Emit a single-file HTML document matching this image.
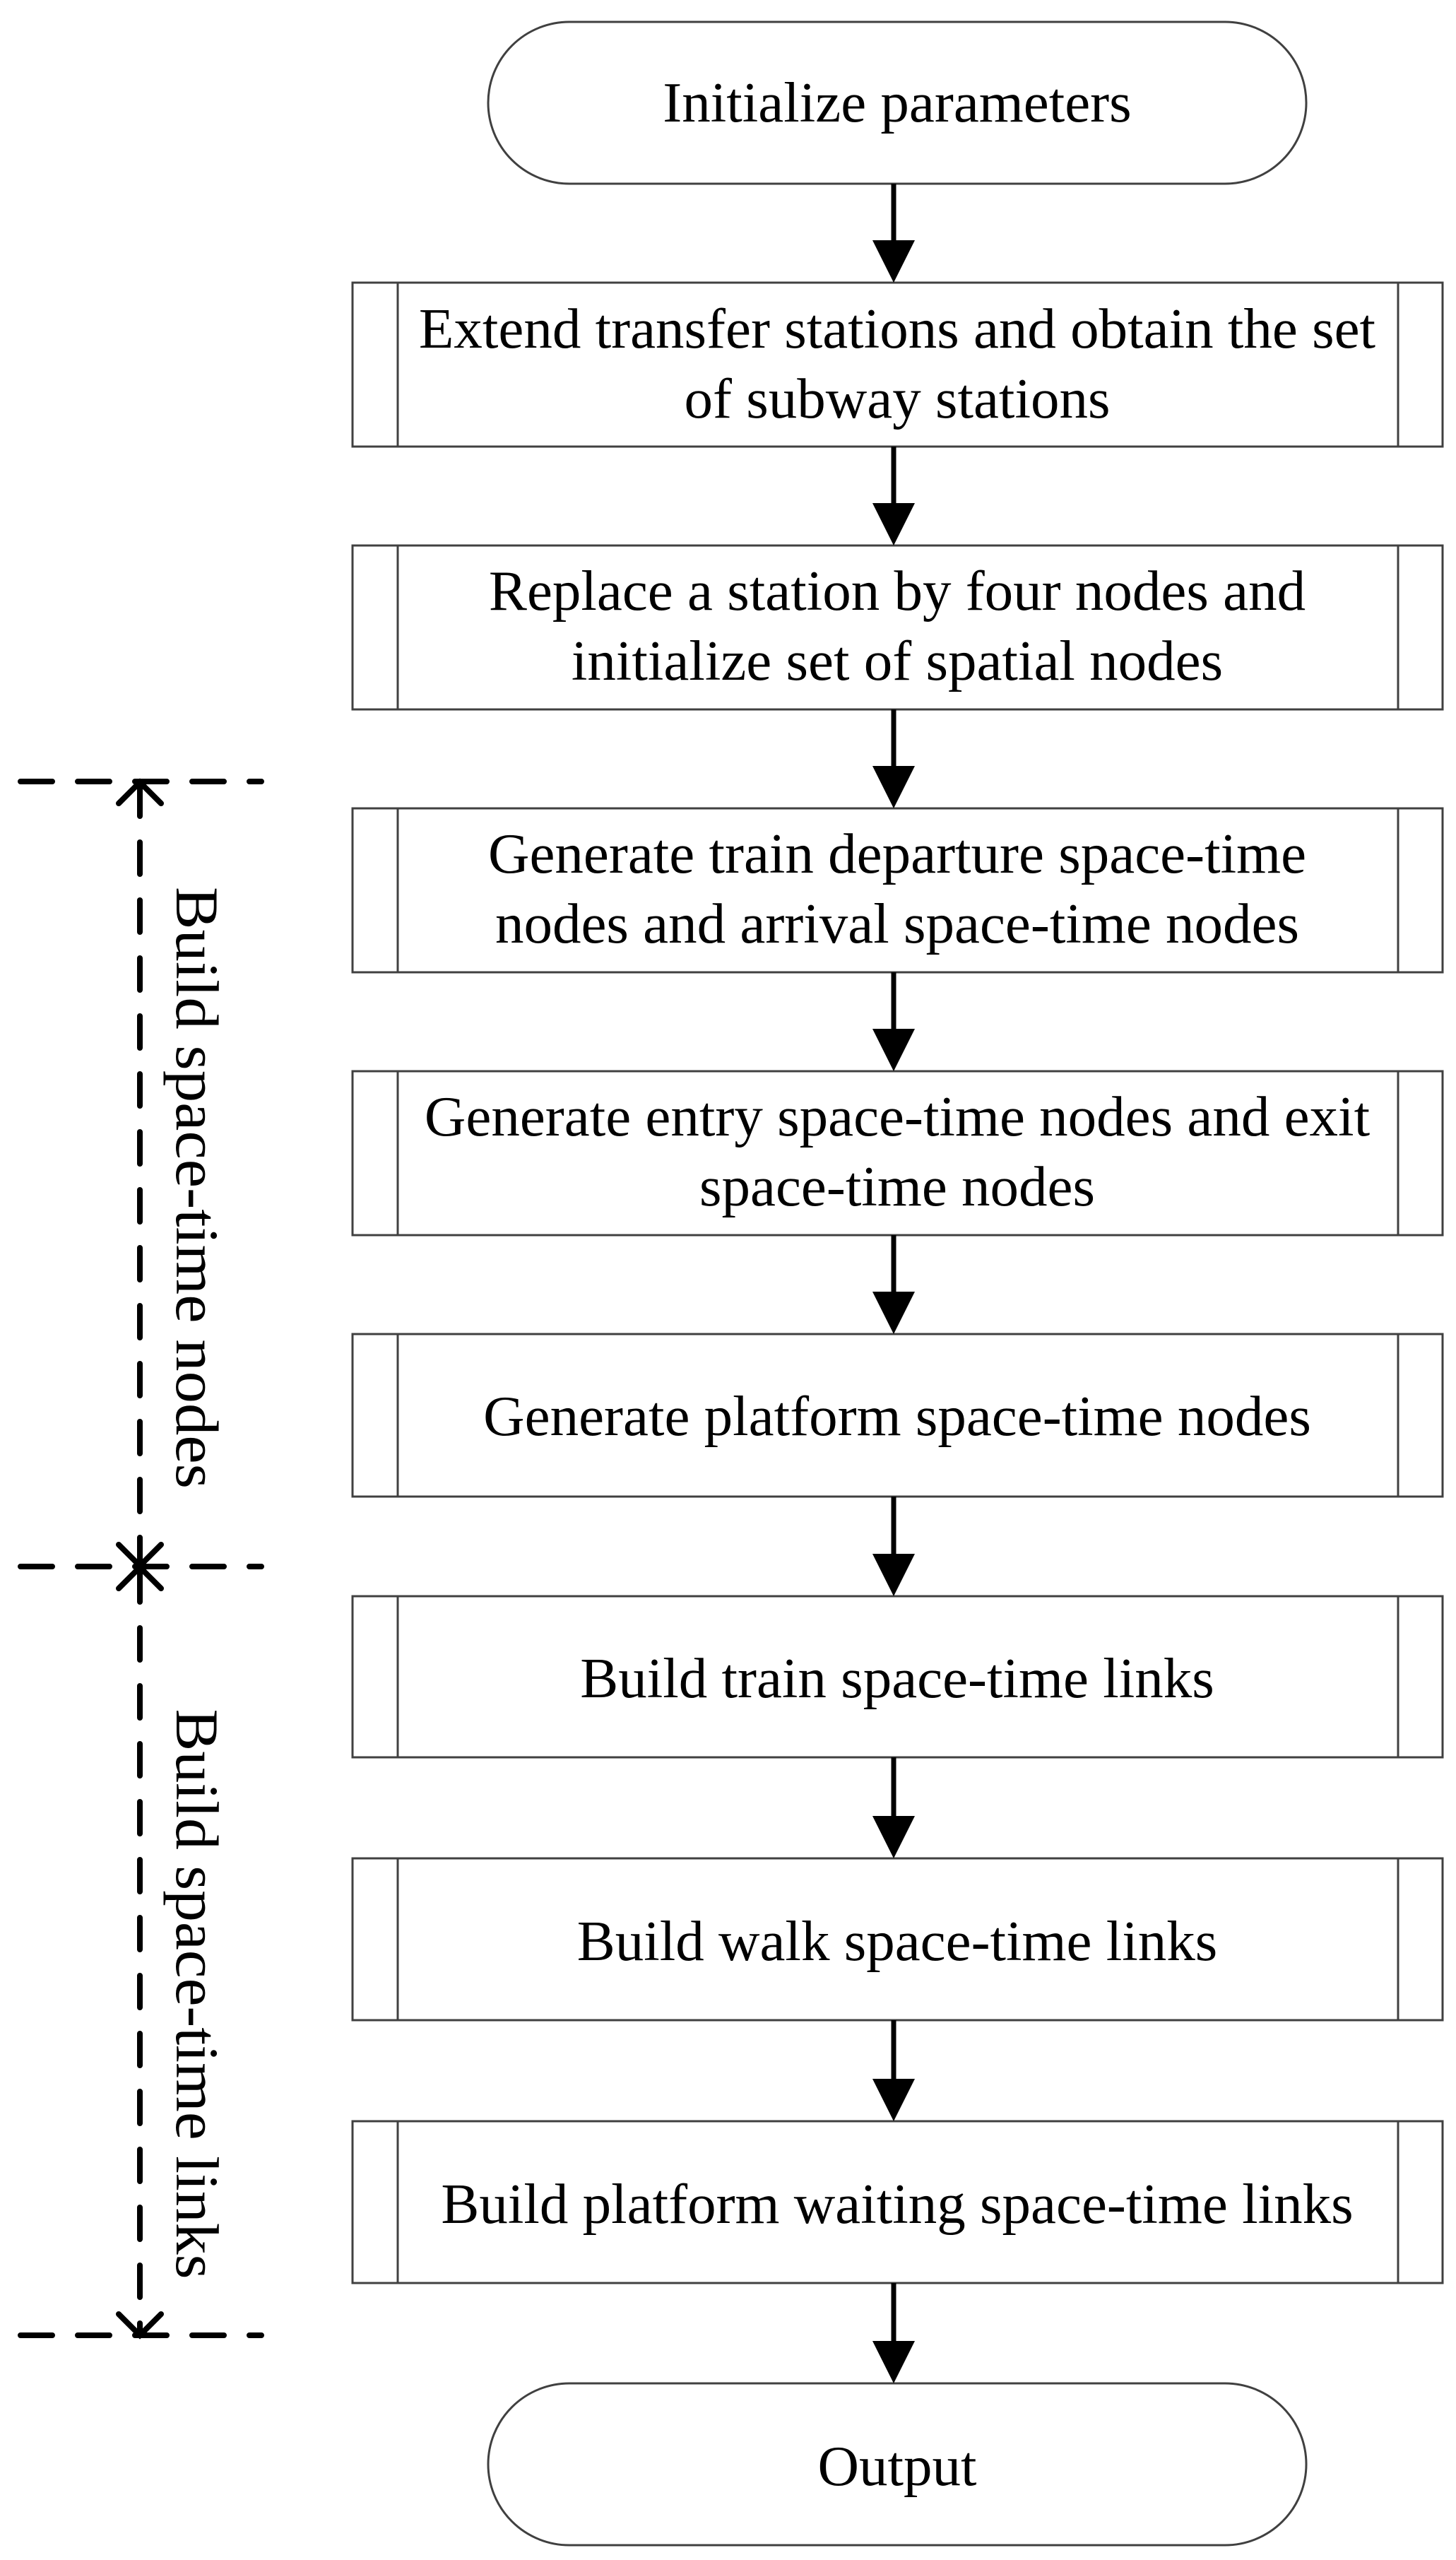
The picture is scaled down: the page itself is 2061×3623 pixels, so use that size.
<!DOCTYPE html>
<html><head><meta charset="utf-8"><style>html,body{margin:0;padding:0;background:#fff}svg{display:block}</style></head>
<body>
<svg width="2061" height="3623" viewBox="0 0 2061 3623" xmlns="http://www.w3.org/2000/svg" font-family="'Liberation Serif', serif" font-size="81">
<rect width="2061" height="3623" fill="#fff"/>
<g fill="none" stroke="#404040" stroke-width="3">
<rect x="691" y="31" width="1158" height="229" rx="115" ry="115"/>
<rect x="691" y="3373" width="1158" height="229" rx="115" ry="115"/>
<rect x="499" y="400" width="1543" height="232"/><line x1="563" y1="400" x2="563" y2="632"/><line x1="1979" y1="400" x2="1979" y2="632"/>
<rect x="499" y="772" width="1543" height="232"/><line x1="563" y1="772" x2="563" y2="1004"/><line x1="1979" y1="772" x2="1979" y2="1004"/>
<rect x="499" y="1144" width="1543" height="232"/><line x1="563" y1="1144" x2="563" y2="1376"/><line x1="1979" y1="1144" x2="1979" y2="1376"/>
<rect x="499" y="1516" width="1543" height="232"/><line x1="563" y1="1516" x2="563" y2="1748"/><line x1="1979" y1="1516" x2="1979" y2="1748"/>
<rect x="499" y="1888" width="1543" height="230"/><line x1="563" y1="1888" x2="563" y2="2118"/><line x1="1979" y1="1888" x2="1979" y2="2118"/>
<rect x="499" y="2259" width="1543" height="228"/><line x1="563" y1="2259" x2="563" y2="2487"/><line x1="1979" y1="2259" x2="1979" y2="2487"/>
<rect x="499" y="2630" width="1543" height="229"/><line x1="563" y1="2630" x2="563" y2="2859"/><line x1="1979" y1="2630" x2="1979" y2="2859"/>
<rect x="499" y="3002" width="1543" height="229"/><line x1="563" y1="3002" x2="563" y2="3231"/><line x1="1979" y1="3002" x2="1979" y2="3231"/>
</g>
<g stroke="#000" stroke-width="7" fill="#000">
<line x1="1265" y1="260" x2="1265" y2="345"/><polygon stroke="none" points="1235,340 1295,340 1265,400"/>
<line x1="1265" y1="632" x2="1265" y2="717"/><polygon stroke="none" points="1235,712 1295,712 1265,772"/>
<line x1="1265" y1="1004" x2="1265" y2="1089"/><polygon stroke="none" points="1235,1084 1295,1084 1265,1144"/>
<line x1="1265" y1="1376" x2="1265" y2="1461"/><polygon stroke="none" points="1235,1456 1295,1456 1265,1516"/>
<line x1="1265" y1="1748" x2="1265" y2="1833"/><polygon stroke="none" points="1235,1828 1295,1828 1265,1888"/>
<line x1="1265" y1="2118" x2="1265" y2="2204"/><polygon stroke="none" points="1235,2199 1295,2199 1265,2259"/>
<line x1="1265" y1="2487" x2="1265" y2="2575"/><polygon stroke="none" points="1235,2570 1295,2570 1265,2630"/>
<line x1="1265" y1="2859" x2="1265" y2="2947"/><polygon stroke="none" points="1235,2942 1295,2942 1265,3002"/>
<line x1="1265" y1="3231" x2="1265" y2="3318"/><polygon stroke="none" points="1235,3313 1295,3313 1265,3373"/>
</g>
<g fill="#000" text-anchor="middle">
<text x="1270" y="172">Initialize parameters</text>
<text x="1270" y="492">Extend transfer stations and obtain the set</text>
<text x="1270" y="591">of subway stations</text>
<text x="1270" y="863">Replace a station by four nodes and</text>
<text x="1270" y="962">initialize set of spatial nodes</text>
<text x="1270" y="1235">Generate train departure space-time</text>
<text x="1270" y="1334">nodes and arrival space-time nodes</text>
<text x="1270" y="1607">Generate entry space-time nodes and exit</text>
<text x="1270" y="1706">space-time nodes</text>
<text x="1270" y="2031">Generate platform space-time nodes</text>
<text x="1270" y="2402">Build train space-time links</text>
<text x="1270" y="2774">Build walk space-time links</text>
<text x="1270" y="3146">Build platform waiting space-time links</text>
<text x="1270" y="3517">Output</text>
</g>
<g stroke="#000" stroke-width="8" stroke-linecap="round" fill="none">
<line x1="29" y1="1106" x2="370" y2="1106" stroke-dasharray="45 36"/>
<line x1="29" y1="2217" x2="370" y2="2217" stroke-dasharray="45 36"/>
<line x1="29" y1="3305" x2="370" y2="3305" stroke-dasharray="45 36"/>
<line x1="198" y1="1110" x2="198" y2="2212" stroke-dasharray="45 37"/>
<line x1="198" y1="2222" x2="198" y2="3300" stroke-dasharray="45 37"/>
<polyline points="168,1137 198,1107 228,1137"/>
<polyline points="168,2186 198,2216 228,2186"/>
<polyline points="168,2248 198,2218 228,2248"/>
<polyline points="168,3275 198,3305 228,3275"/>
</g>
<g fill="#000" font-size="86" text-anchor="middle">
<text transform="translate(250,1681) rotate(90)" textLength="852" lengthAdjust="spacingAndGlyphs">Build space-time nodes</text>
<text transform="translate(250,2822) rotate(90)" textLength="807" lengthAdjust="spacingAndGlyphs">Build space-time links</text>
</g>
</svg>
</body></html>
